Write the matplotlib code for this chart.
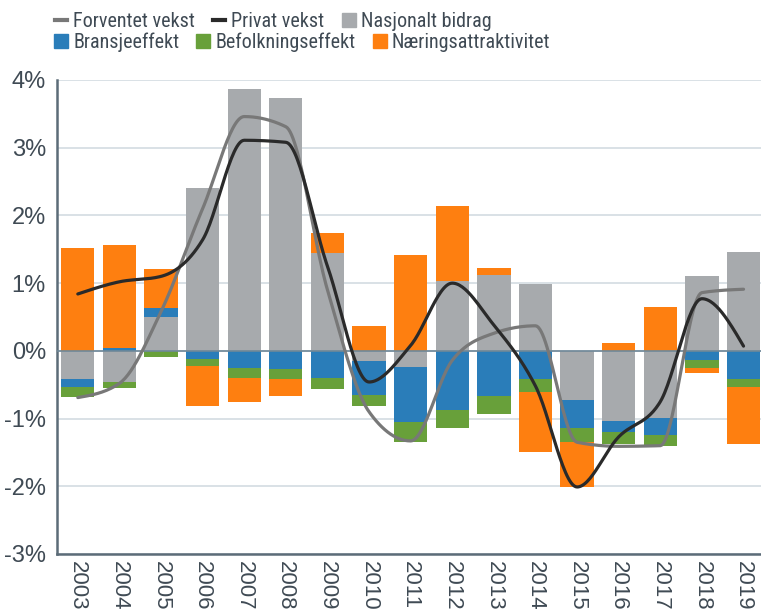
import matplotlib
matplotlib.use('Agg')
import matplotlib.pyplot as plt
from matplotlib.lines import Line2D
import numpy as np

plt.rcParams['font.family'] = ['Liberation Sans', 'DejaVu Sans']

years = [str(y) for y in range(2003, 2020)]

# positive / negative parts of each component, in % points
nasjonalt_pos = [0, 0, 0.50, 2.40, 3.86, 3.73, 1.44, 0, 0, 1.03, 1.12, 0.98, 0, 0, 0, 1.10, 1.46]
nasjonalt_neg = [-0.42, -0.46, 0, 0, 0, 0, 0, -0.15, -0.24, 0, 0, 0, -0.73, -1.04, -0.99, 0, 0]
bransje_pos = [0, 0.04, 0.13, 0, 0, 0, 0, 0, 0, 0, 0, 0, 0, 0, 0, 0, 0]
bransje_neg = [-0.12, 0, 0, -0.12, -0.26, -0.27, -0.40, -0.50, -0.81, -0.88, -0.67, -0.41, -0.41, -0.16, -0.25, -0.13, -0.42]
befolkning_pos = [0] * 17
befolkning_neg = [-0.14, -0.09, -0.09, -0.10, -0.14, -0.14, -0.17, -0.17, -0.29, -0.26, -0.26, -0.20, -0.20, -0.18, -0.16, -0.12, -0.12]
naering_pos = [1.52, 1.52, 0.58, 0, 0, 0, 0.30, 0.37, 1.42, 1.11, 0.11, 0, 0, 0.11, 0.65, 0, 0]
naering_neg = [0, 0, 0, -0.59, -0.35, -0.25, 0, 0, 0, 0, 0, -0.89, -0.67, 0, 0, -0.08, -0.84]

forventet = [-0.69, -0.48, 0.58, 2.10, 3.46, 3.31, 0.90, -0.90, -1.33, -0.14, 0.26, 0.37, -1.35, -1.41, -1.40, 0.86, 0.91]
privat = [0.84, 1.02, 1.10, 1.64, 3.11, 3.08, 1.25, -0.46, 0.08, 1.00, 0.38, -0.52, -2.01, -1.27, -0.75, 0.77, 0.07]

c_gray = '#a7aaad'
c_blue = '#2a7db9'
c_green = '#68a03a'
c_orange = '#fe7f10'
c_text = '#3f4a54'


def smooth(xs, ys, n=30):
    # monotone cubic curve through the points (no overshoot)
    xs = np.asarray(xs, float)
    ys = np.asarray(ys, float)
    h = np.diff(xs)
    s = np.diff(ys) / h
    m = np.zeros(len(xs))
    for i in range(1, len(xs) - 1):
        p = (s[i - 1] * h[i] + s[i] * h[i - 1]) / (h[i - 1] + h[i])
        m[i] = (np.sign(s[i - 1]) + np.sign(s[i])) * min(abs(s[i - 1]), abs(s[i]), 0.5 * abs(p))
    m[0] = (3 * s[0] - m[1]) / 2
    m[-1] = (3 * s[-1] - m[-2]) / 2
    px, py = [], []
    for i in range(len(xs) - 1):
        t = np.linspace(0, 1, n)
        h00 = 2 * t ** 3 - 3 * t ** 2 + 1
        h10 = t ** 3 - 2 * t ** 2 + t
        h01 = -2 * t ** 3 + 3 * t ** 2
        h11 = t ** 3 - t ** 2
        yy = h00 * ys[i] + h10 * h[i] * m[i] + h01 * ys[i + 1] + h11 * h[i] * m[i + 1]
        xx = xs[i] + t * h[i]
        px.append(xx if i == 0 else xx[1:])
        py.append(yy if i == 0 else yy[1:])
    return np.concatenate(px), np.concatenate(py)


fig = plt.figure(figsize=(7.61, 6.13), dpi=100)
ax = fig.add_axes([57 / 761, 1 - 554 / 613, 1 - 57 / 761, (554 - 80) / 613])

x = np.arange(len(years))
w = 0.8
pos_b = np.zeros(len(x))
neg_b = np.zeros(len(x))
for pos, neg, col in [(nasjonalt_pos, nasjonalt_neg, c_gray),
                      (bransje_pos, bransje_neg, c_blue),
                      (befolkning_pos, befolkning_neg, c_green),
                      (naering_pos, naering_neg, c_orange)]:
    pos = np.array(pos)
    neg = np.array(neg)
    ax.bar(x, pos, w, bottom=pos_b, color=col, zorder=2)
    ax.bar(x, neg, w, bottom=neg_b, color=col, zorder=2)
    pos_b += pos
    neg_b += neg

sx, sy = smooth(x, forventet)
ax.plot(sx, sy, color='#787878', lw=2.3, zorder=4, solid_capstyle='round')
sx, sy = smooth(x, privat)
ax.plot(sx, sy, color='#2a2a2a', lw=2.3, zorder=5, solid_capstyle='round')

ax.axhline(0, color='#6f8898', lw=1.2, zorder=3)
ax.set_xlim(-0.5, 16.42)
ax.set_ylim(-3, 4)
ax.set_yticks(np.arange(-3, 5))
ax.set_yticklabels([f'{v}%' for v in range(-3, 5)])
ax.set_xticks(x)
ax.set_xticklabels(years, rotation=-90)
ax.tick_params(length=0, labelsize=17, colors=c_text)
ax.tick_params(axis='y', pad=8)
ax.tick_params(axis='x', labelsize=16, pad=5)
ax.grid(axis='y', color='#d3dbe1', lw=1.2, zorder=0)
for s in ['top', 'right']:
    ax.spines[s].set_visible(False)
for s in ['left', 'bottom']:
    ax.spines[s].set_color('#5c6c78')
    ax.spines[s].set_linewidth(1.8)

row1 = [Line2D([], [], color='#787878', lw=3),
        Line2D([], [], color='#2a2a2a', lw=3),
        Line2D([], [], color=c_gray, marker='s', ls='', ms=10)]
row2 = [Line2D([], [], color=c_blue, marker='s', ls='', ms=10),
        Line2D([], [], color=c_green, marker='s', ls='', ms=10),
        Line2D([], [], color=c_orange, marker='s', ls='', ms=10)]
kw = dict(loc='upper left', frameon=False, ncol=3, handlelength=0.6,
          handletextpad=0.3, columnspacing=0.9, borderpad=0, borderaxespad=0,
          labelcolor=c_text,
          prop={'family': ['Roboto Condensed', 'Liberation Sans'], 'size': 14.5})
fig.legend(row1, ['Forventet vekst', 'Privat vekst', 'Nasjonalt bidrag'],
           bbox_to_anchor=(55 / 761, 1 - 12 / 613), **kw)
fig.legend(row2, ['Bransjeeffekt', 'Befolkningseffekt', 'Næringsattraktivitet'],
           bbox_to_anchor=(55 / 761, 1 - 33 / 613), **kw)

fig.savefig('out.png', dpi=100)
